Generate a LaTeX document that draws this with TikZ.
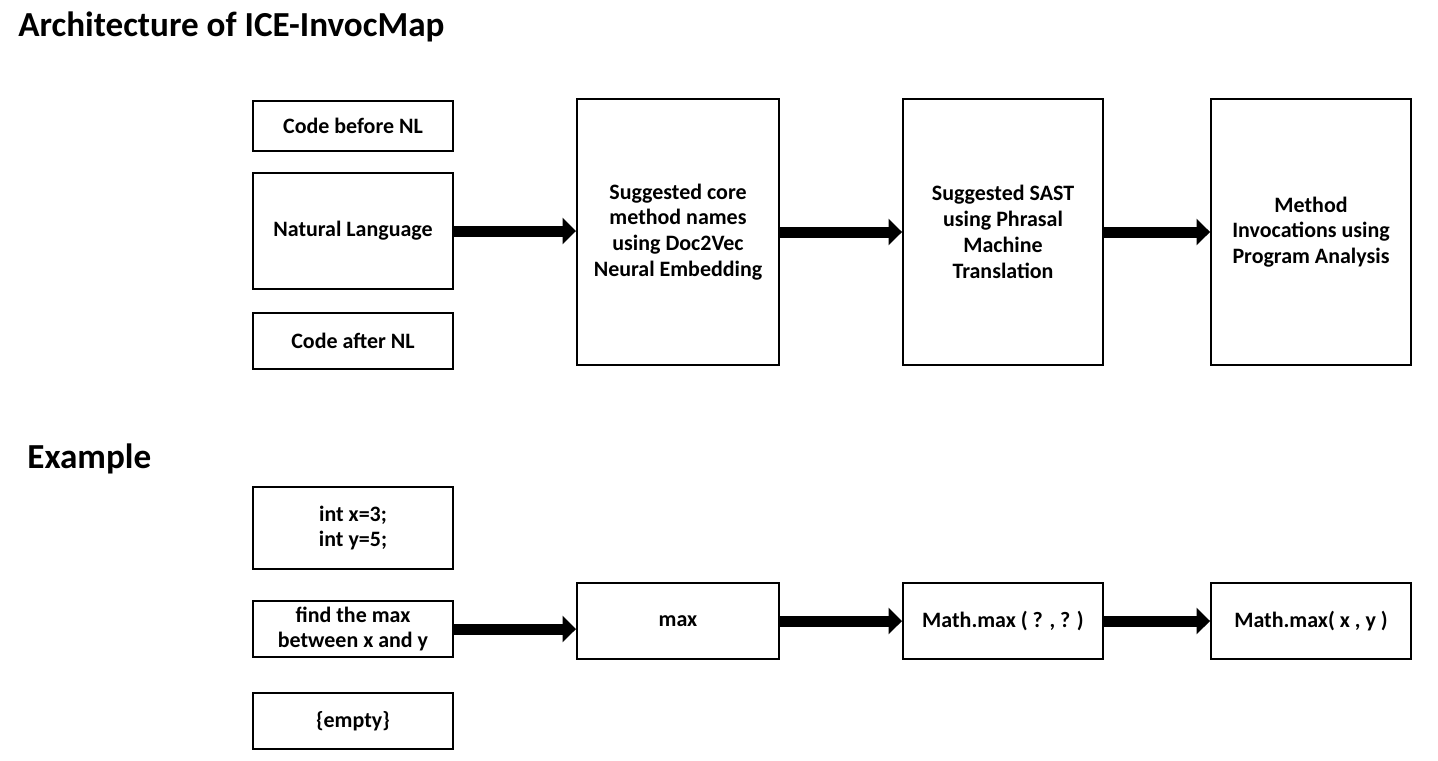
\documentclass[tikz,border=0pt]{standalone}
\usepackage{fontspec}
\setmainfont{Carlito}
\usetikzlibrary{arrows.meta}

\begin{document}
\begin{tikzpicture}[
  stage/.style={draw=black,line width=1.1pt,rectangle,align=center,font=\bfseries\fontsize{12.5}{14.7}\selectfont,inner sep=2pt},
  heading/.style={font=\bfseries\fontsize{20}{24}\selectfont,anchor=base west,inner sep=0pt},
  flow/.style={line width=0.22cm,-{Triangle[length=0.27cm,width=0.52cm]}}
]
\useasboundingbox (0,0) rectangle (28.76,15.2);

\node[heading] (title) at (0.36,14.46) {Architecture of ICE-InvocMap};
\node[heading] (extitle) at (0.54,5.84) {Example};

% architecture
\node[stage,minimum width=4cm,minimum height=1cm] (before) at (7.06,12.68) {Code before NL};
\node[stage,minimum width=4cm,minimum height=2.32cm] (nl) at (7.06,10.58) {Natural Language};
\node[stage,minimum width=4cm,minimum height=1.12cm] (after) at (7.06,8.38) {Code after NL};
\node[stage,minimum width=4.04cm,minimum height=5.32cm] (docvec) at (13.56,10.56) {Suggested core\\method names\\using Doc2Vec\\Neural Embedding};
\node[stage,minimum width=4cm,minimum height=5.32cm] (sast) at (20.06,10.56) {Suggested SAST\\using Phrasal\\Machine\\Translation};
\node[stage,minimum width=4cm,minimum height=5.32cm] (invoc) at (26.22,10.56) {Method\\Invocations using\\Program Analysis};

\draw[flow] (nl.east) -- (nl.east -| docvec.west);
\draw[flow] (docvec.east) -- (sast.west);
\draw[flow] (sast.east) -- (invoc.west);

% example
\node[stage,minimum width=4cm,minimum height=1.64cm] (code) at (7.06,4.64) {int x=3;\\int y=5;};
\node[stage,minimum width=4cm,minimum height=1.12cm] (query) at (7.06,2.62) {find the max\\between x and y};
\node[stage,minimum width=4cm,minimum height=1.12cm] (empty) at (7.06,0.78) {\{empty\}};
\node[stage,minimum width=4.04cm,minimum height=1.52cm] (max) at (13.56,2.78) {max};
\node[stage,minimum width=4cm,minimum height=1.52cm] (skel) at (20.06,2.78) {Math.max ( ? , ? )};
\node[stage,minimum width=4cm,minimum height=1.52cm] (call) at (26.22,2.78) {Math.max( x , y )};

\draw[flow] (query.east) -- (query.east -| max.west);
\draw[flow] (max.east) -- (skel.west);
\draw[flow] (skel.east) -- (call.west);

\end{tikzpicture}
\end{document}
